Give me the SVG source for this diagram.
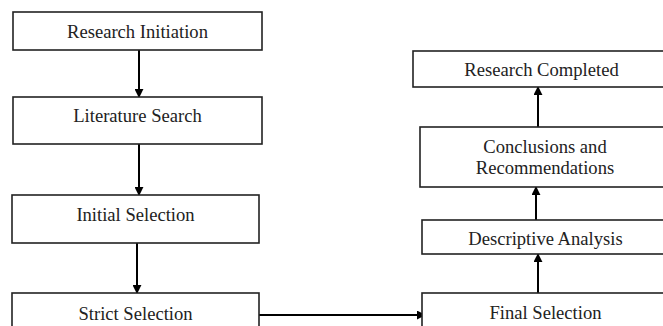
<svg xmlns="http://www.w3.org/2000/svg" width="663" height="326" viewBox="0 0 663 326">
<defs>
<style>
.box{fill:#fff;stroke:#222;stroke-width:1.6}
.lbl{font-family:"Liberation Serif","Times New Roman",serif;font-size:18.6px;fill:#222;text-anchor:middle}
.con{stroke:#000;stroke-width:2;fill:none}
</style>
<marker id="ah" viewBox="0 0 10 10" refX="9" refY="5" markerWidth="4.5" markerHeight="4.5" orient="auto" markerUnits="strokeWidth">
<path d="M0,0 L10,5 L0,10 z" fill="#000"/>
</marker>
</defs>
<rect width="663" height="326" fill="#fff"/>
<g id="connectors">
<line class="con" x1="139" y1="50" x2="139" y2="97" marker-end="url(#ah)"/>
<line class="con" x1="139" y1="144" x2="139" y2="195" marker-end="url(#ah)"/>
<line class="con" x1="137" y1="243" x2="137" y2="293" marker-end="url(#ah)"/>
<line class="con" x1="259" y1="315" x2="425" y2="315" marker-end="url(#ah)"/>
<line class="con" x1="538" y1="293" x2="538" y2="254" marker-end="url(#ah)"/>
<line class="con" x1="536" y1="220" x2="536" y2="187" marker-end="url(#ah)"/>
<line class="con" x1="538" y1="127" x2="538" y2="87" marker-end="url(#ah)"/>
</g>
<g id="research-initiation">
<rect class="box" x="13" y="12" width="249" height="38"/>
<text class="lbl" x="137.5" y="37.5">Research Initiation</text>
</g>
<g id="literature-search">
<rect class="box" x="13" y="97" width="249" height="47"/>
<text class="lbl" x="137.5" y="122">Literature Search</text>
</g>
<g id="initial-selection">
<rect class="box" x="12" y="195" width="247" height="48"/>
<text class="lbl" x="135.5" y="221">Initial Selection</text>
</g>
<g id="strict-selection">
<rect class="box" x="12" y="293" width="247" height="50"/>
<text class="lbl" x="135.5" y="319.5">Strict Selection</text>
</g>
<g id="final-selection">
<rect class="box" x="422" y="293" width="260" height="50"/>
<text class="lbl" x="545.5" y="318.5">Final Selection</text>
</g>
<g id="descriptive-analysis">
<rect class="box" x="422" y="220" width="260" height="34"/>
<text class="lbl" x="545.5" y="244.5">Descriptive Analysis</text>
</g>
<g id="conclusions-recommendations">
<rect class="box" x="420" y="127" width="260" height="60"/>
<text class="lbl" x="545" y="152.5">Conclusions and</text>
<text class="lbl" x="545" y="173.5">Recommendations</text>
</g>
<g id="research-completed">
<rect class="box" x="413" y="51" width="270" height="36"/>
<text class="lbl" x="541.5" y="75.5">Research Completed</text>
</g>
</svg>
